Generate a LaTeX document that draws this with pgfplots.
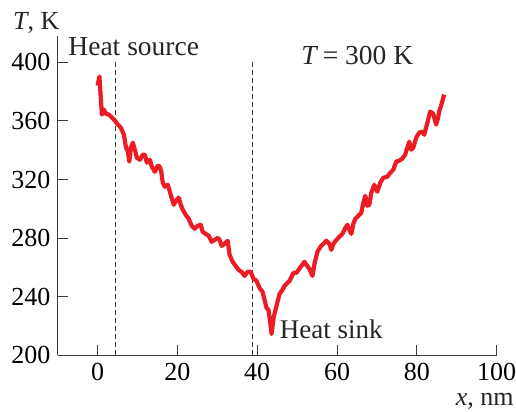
\documentclass[border=0pt]{standalone}
\usepackage{fontspec}
\setmainfont{Liberation Serif}
\usepackage{pgfplots}
\pgfplotsset{compat=1.18}
\definecolor{curvered}{RGB}{237,28,36}
\definecolor{axgray}{RGB}{60,60,60}
\begin{document}
\fontsize{26bp}{30bp}\selectfont
\begin{tikzpicture}
\begin{axis}[
  scale only axis,
  width=439bp, height=319.3bp,
  xmin=-10, xmax=100, ymin=200, ymax=418,
  axis x line*=bottom, axis y line*=left,
  axis line style={axgray, line width=1bp},
  xtick={0,20,40,60,80,100},
  ytick={200,240,280,320,360,400},
  tick align=inside,
  major tick length=10bp,
  tick style={axgray, line width=1bp},
  /pgf/number format/assume math mode=true,
  xticklabel style={anchor=north, inner sep=0pt, yshift=-8bp},
  yticklabel style={anchor=east, inner sep=0pt, xshift=-7bp},
  clip=false,
]
\addplot[axgray, line width=0.9bp, dash pattern=on 5bp off 3bp] coordinates {(4.4,200) (4.4,400)};
\addplot[axgray, line width=0.9bp, dash pattern=on 5bp off 3bp] coordinates {(38.9,200) (38.9,400)};
\addplot[curvered, line width=4.2bp, line join=round, line cap=butt] coordinates {
(0.0,384.1) (0.45,390.3) (0.83,374.6) (1.08,364.3) (1.58,367.7) (2.08,365.0)
(2.83,364.3) (3.58,362.3) (4.33,360.2) (5.08,357.5) (5.83,355.4) (6.58,350.6)
(7.08,342.4) (7.58,339.0) (7.95,332.2) (8.33,341.7) (8.83,345.2) (9.33,340.4)
(9.83,334.9) (10.58,333.5) (11.33,337.0) (11.83,337.0) (12.33,331.5) (13.08,333.5)
(13.58,328.8) (14.33,325.3) (15.08,329.4) (15.58,328.8) (15.95,325.3) (16.33,317.8)
(16.83,315.1) (17.58,316.4) (18.33,309.6) (19.08,302.8) (19.83,306.2) (20.33,307.6)
(20.83,302.8) (21.33,299.4) (22.08,295.9) (22.83,293.2) (23.58,288.4) (24.33,286.4)
(25.08,288.4) (25.83,289.1) (26.33,284.3) (27.08,282.9) (27.83,281.6) (28.58,277.5)
(29.33,278.8) (30.08,280.2) (30.58,278.8) (31.08,274.7) (31.83,276.1) (32.58,278.2)
(33.08,268.6) (33.83,263.8) (34.58,261.1) (35.33,258.3) (36.08,257.0) (36.83,254.2)
(37.58,257.0) (38.33,257.0) (39.08,252.2) (39.83,250.8) (40.58,246.0) (41.33,243.3)
(41.83,237.8) (42.33,232.3) (42.83,231.0) (43.33,220.7) (43.58,214.6) (44.08,225.5)
(44.58,231.0) (45.08,236.4) (45.58,241.9) (46.33,244.7) (46.83,247.4) (47.58,249.4)
(48.08,250.8) (48.58,253.5) (49.08,256.3) (49.83,256.3) (50.33,258.3) (51.08,261.1)
(51.83,263.8) (52.33,261.7) (53.08,259.0) (53.83,254.2) (54.33,262.4) (55.08,270.6)
(55.83,274.1) (56.58,276.1) (57.33,278.2) (58.08,276.1) (58.58,272.0) (59.08,276.1)
(59.83,278.8) (60.58,280.9) (61.33,282.9) (62.08,287.0) (62.58,289.1) (63.08,285.7)
(63.58,282.9) (64.08,289.8) (64.58,293.2) (65.33,295.2) (66.08,297.3) (66.58,304.1)
(67.08,308.9) (67.58,302.1) (68.08,302.8) (68.58,311.0) (69.33,316.4) (70.08,311.7)
(70.83,317.8) (71.58,321.2) (72.58,321.9) (73.33,324.6) (74.08,326.7) (74.83,332.2)
(75.58,332.9) (76.33,334.2) (77.08,337.0) (77.58,341.7) (78.08,345.8) (78.58,340.4)
(79.08,341.7) (79.83,348.6) (80.58,352.0) (81.33,352.7) (81.83,350.6) (82.58,358.2)
(83.33,366.4) (84.08,365.0) (84.83,357.5) (85.33,362.3) (85.58,366.4) (86.08,370.5)
(86.83,378.0)
};
\node[anchor=base west, inner sep=0pt, text=black!85] at (axis cs:-21.2,422.4) {\textit{T}, K};
\node[anchor=base west, inner sep=0pt, text=black!85, font=\fontsize{27.5bp}{30bp}\selectfont] at (axis cs:-7.35,404.7) {Heat source};
\node[anchor=base west, inner sep=0pt, text=black!85, font=\fontsize{27.5bp}{30bp}\selectfont] at (axis cs:51.0,398.5) {\textit{T}\,= 300 K};
\node[anchor=base west, inner sep=0pt, text=black!85, font=\fontsize{27bp}{30bp}\selectfont] at (axis cs:45.6,211.6) {Heat sink};
\node[anchor=base east, inner sep=0pt, text=black!85] at (axis cs:104.3,166.0) {\textit{x}, nm};
\end{axis}
\pgfresetboundingbox
\useasboundingbox (-57.7bp,-56.7bp) rectangle (458.3bp,355.3bp);
\end{tikzpicture}
\end{document}
